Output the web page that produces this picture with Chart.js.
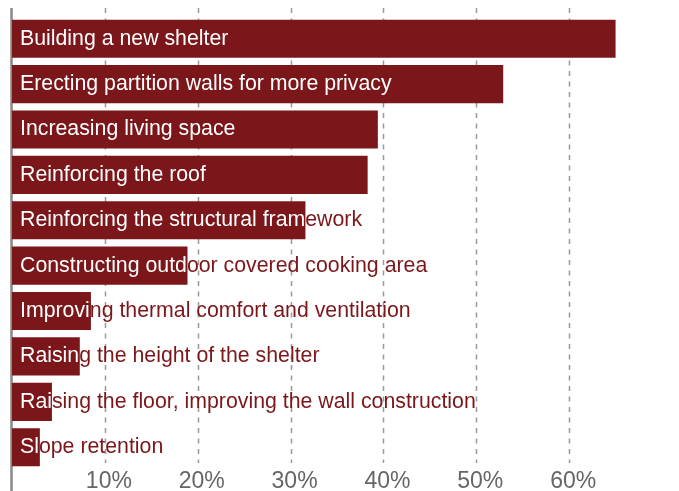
<!DOCTYPE html>
<html>
<head>
<meta charset="utf-8">
<script src="https://cdn.jsdelivr.net/npm/chart.js@4"></script>
<style>
  html, body { margin: 0; padding: 0; background: #fff; }
  #wrap { width: 679px; height: 491px; position: relative; }
</style>
</head>
<body>
<div id="wrap"><canvas id="chart"></canvas></div>
<script>
// Dados
const categorias = [
  'Building a new shelter',
  'Erecting partition walls for more privacy',
  'Increasing living space',
  'Reinforcing the roof',
  'Reinforcing the structural framework',
  'Constructing outdoor covered cooking area',
  'Improving thermal comfort and ventilation',
  'Raising the height of the shelter',
  'Raising the floor, improving the wall construction',
  'Slope retention'
];
const valores = [65.0, 52.9, 39.4, 38.3, 31.6, 18.9, 8.5, 7.3, 4.3, 3.0];
const ticksX = [10, 20, 30, 40, 50, 60];

const corBarra = '#7b171a';

// Grade tracejada e linha do eixo (desenhadas antes das barras)
const gradePlugin = {
  id: 'grade',
  beforeDatasetsDraw(chart) {
    const ctx = chart.ctx;
    const x = chart.scales.x;
    ctx.save();
    ctx.strokeStyle = '#999';
    ctx.lineWidth = 1.5;
    ctx.setLineDash([5, 5.5]);
    ticksX.forEach(v => {
      const px = Math.round(x.getPixelForValue(v)) + 0.5;
      ctx.beginPath();
      ctx.moveTo(px, 8);
      ctx.lineTo(px, 463);
      ctx.stroke();
    });
    ctx.setLineDash([]);
    ctx.strokeStyle = '#888';
    ctx.lineWidth = 2.5;
    const x0 = x.getPixelForValue(0) - 0.5;
    ctx.beginPath();
    ctx.moveTo(x0, 8);
    ctx.lineTo(x0, 491);
    ctx.stroke();
    ctx.restore();
  }
};

// Rótulos dentro das barras: branco sobre a barra, vermelho fora dela
const rotulosPlugin = {
  id: 'rotulos',
  afterDatasetsDraw(chart) {
    const ctx = chart.ctx;
    const meta = chart.getDatasetMeta(0);
    ctx.save();
    ctx.font = '21.3px "Liberation Sans", Arial, sans-serif';
    ctx.textAlign = 'left';
    ctx.textBaseline = 'alphabetic';
    meta.data.forEach((bar, i) => {
      const p = bar.getProps(['x', 'y', 'base', 'height'], true);
      const tx = p.base + 8;
      const ty = p.y + 6;
      ctx.fillStyle = corBarra;
      ctx.fillText(categorias[i], tx, ty);
      ctx.save();
      ctx.beginPath();
      ctx.rect(p.base, p.y - p.height / 2, p.x - p.base, p.height);
      ctx.clip();
      ctx.fillStyle = '#fff';
      ctx.fillText(categorias[i], tx, ty);
      ctx.restore();
    });
    ctx.restore();
  }
};

new Chart(document.getElementById('chart'), {
  type: 'bar',
  data: {
    labels: categorias,
    datasets: [{
      data: valores,
      backgroundColor: corBarra,
      borderWidth: 0,
      barPercentage: 0.84,
      categoryPercentage: 1
    }]
  },
  options: {
    indexAxis: 'y',
    responsive: true,
    maintainAspectRatio: false,
    animation: false,
    layout: { padding: { left: 12, right: 17, top: 16, bottom: -3 } },
    plugins: {
      legend: { display: false },
      tooltip: { enabled: false }
    },
    scales: {
      x: {
        min: 0,
        max: 70,
        grid: { display: false, drawTicks: false },
        border: { display: false },
        ticks: {
          stepSize: 10,
          autoSkip: false,
          maxRotation: 0,
          padding: 4,
          labelOffset: 4,
          color: '#666',
          font: { family: '"Liberation Sans", Arial, sans-serif', size: 23, lineHeight: 0.7 },
          callback: v => (v === 0 || v > 60) ? '' : v + '%'
        }
      },
      y: {
        display: false
      }
    }
  },
  plugins: [gradePlugin, rotulosPlugin]
});
</script>
</body>
</html>
